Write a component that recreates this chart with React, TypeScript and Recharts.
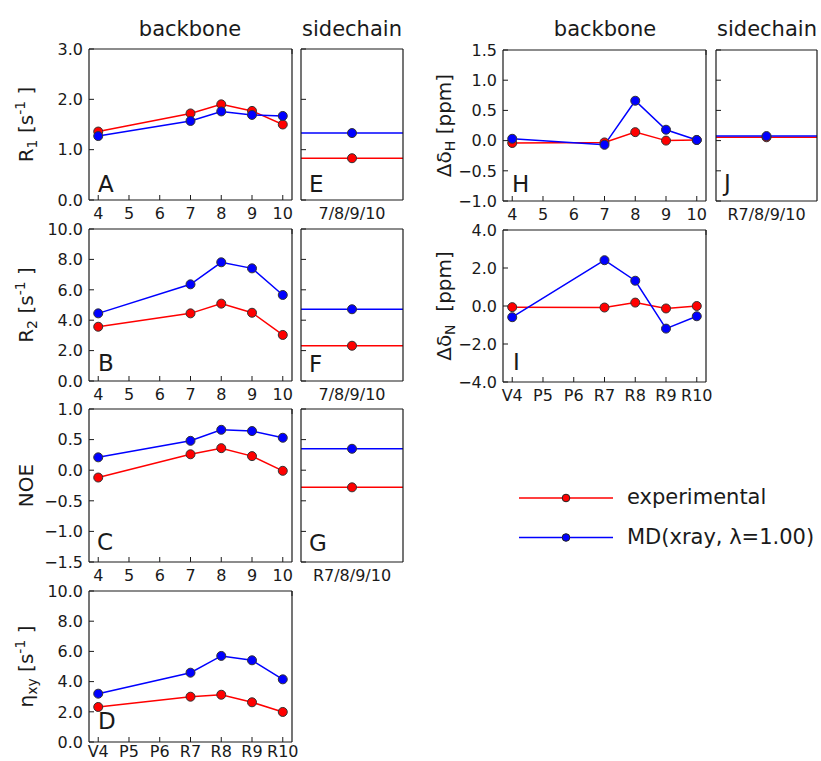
import React from 'react';
import { LineChart, Line, XAxis, YAxis, ReferenceLine } from 'recharts';

const RED = '#ff0000';
const BLUE = '#0000ff';
const INK = '#1a1a1a';
const FONT = '"DejaVu Sans", Verdana, sans-serif';
const TICK = 5;

// residues of the backbone
const residues = [4, 7, 8, 9, 10];
const residueTicks = [4, 5, 6, 7, 8, 9, 10];
const residueNames = ['V4', 'P5', 'P6', 'R7', 'R8', 'R9', 'R10'];
const xDomain = [3.7, 10.3];

// A / E : R1
const r1Exp = [1.36, 1.72, 1.9, 1.77, 1.5];
const r1Md = [1.27, 1.57, 1.76, 1.69, 1.67];
const r1SideExp = 0.83;
const r1SideMd = 1.33;
const r1Ticks = [0, 1, 2, 3];

// B / F : R2
const r2Exp = [3.57, 4.45, 5.09, 4.49, 3.03];
const r2Md = [4.45, 6.36, 7.81, 7.41, 5.66];
const r2SideExp = 2.32;
const r2SideMd = 4.72;
const r2Ticks = [0, 2, 4, 6, 8, 10];

// C / G : NOE
const noeExp = [-0.12, 0.26, 0.36, 0.23, -0.01];
const noeMd = [0.21, 0.48, 0.66, 0.64, 0.53];
const noeSideExp = -0.28;
const noeSideMd = 0.35;
const noeTicks = [-1.5, -1, -0.5, 0, 0.5, 1];

// D : eta_xy
const etaExp = [2.32, 3.0, 3.13, 2.63, 1.99];
const etaMd = [3.2, 4.59, 5.7, 5.41, 4.15];
const etaTicks = [0, 2, 4, 6, 8, 10];

// H / J : delta H
const dhExp = [-0.04, -0.03, 0.14, 0.0, 0.01];
const dhMd = [0.03, -0.07, 0.66, 0.18, 0.01];
const dhSideExp = 0.055;
const dhSideMd = 0.075;
const dhTicks = [-1, -0.5, 0, 0.5, 1, 1.5];

// I : delta N
const dnExp = [-0.06, -0.08, 0.18, -0.13, 0.0];
const dnMd = [-0.59, 2.41, 1.33, -1.19, -0.54];
const dnTicks = [-4, -2, 0, 2, 4];

const seriesNames = ['experimental', 'MD(xray, \u03bb=1.00)'];

const fmt = (v: number) => v.toFixed(1).replace('-', '\u2212');
const axisStyle = { stroke: INK, strokeWidth: 1.2 };
const textStyle = { fontFamily: FONT, fill: INK };

const LeftTick = (props: any) => {
  const { x, y, payload, showLabel } = props;
  return (
    <g>
      <line x1={x} x2={x + TICK} y1={y} y2={y} stroke={INK} />
      {showLabel && (
        <text x={x - 6} y={y + 5.8} textAnchor="end" fontSize={16} {...textStyle}>
          {fmt(payload.value)}
        </text>
      )}
    </g>
  );
};

const RightTick = ({ x, y }: any) => <line x1={x} x2={x - TICK} y1={y} y2={y} stroke={INK} />;
const TopTick = ({ x, y, showLine }: any) =>
  showLine ? <line x1={x} x2={x} y1={y} y2={y + TICK} stroke={INK} /> : <g />;

const BottomTick = (props: any) => {
  const { x, y, payload, names, single, showLine, gap = 19 } = props;
  let label = String(payload.value);
  if (single) label = single;
  else if (names) label = residueNames[residueTicks.indexOf(payload.value)];
  return (
    <g>
      {showLine && <line x1={x} x2={x} y1={y} y2={y - TICK} stroke={INK} />}
      <text x={x} y={y + gap} textAnchor="middle" fontSize={16} {...textStyle}>
        {label}
      </text>
    </g>
  );
};

const dotStyle = (c: string) => ({ r: 4.5, fill: c, stroke: '#333', strokeWidth: 1 });

function BackbonePanel(p: any) {
  const padT = 10, padB = 30, padR = 8;
  const data = residues.map((r, i) => ({ res: r, exp: p.exp[i], md: p.md[i] }));
  const cw = p.padL + p.w + padR;
  const ch = padT + p.h + padB;
  return (
    <div style={{ position: 'absolute', left: p.left - p.padL, top: p.top - padT }}>
      <LineChart width={cw} height={ch} data={data} margin={{ top: padT - 1, right: padR - 1, bottom: 0, left: 0 }}>
        <XAxis dataKey="res" type="number" domain={xDomain} ticks={residueTicks} interval={0} height={padB}
          tickSize={0} tickMargin={0} tickLine={false} axisLine={axisStyle}
          tick={(t: any) => <BottomTick {...t} names={p.named} gap={p.tickGap} showLine />}
          label={{
            content: () => (
              <text x={p.padL + p.letterDx} y={padT + p.h - p.letterDy} fontSize={23} {...textStyle}>{p.letter}</text>
            ),
          }} />
        <XAxis xAxisId="top" orientation="top" type="number" domain={xDomain} ticks={residueTicks} interval={0} height={1}
          tickSize={0} tickMargin={0} tickLine={false} axisLine={axisStyle}
          tick={(t: any) => <TopTick {...t} showLine />} />
        <YAxis type="number" domain={p.domain} ticks={p.ticks} interval={0} width={p.padL}
          tickSize={0} tickMargin={0} tickLine={false} axisLine={axisStyle}
          tick={(t: any) => <LeftTick {...t} showLabel />}
          label={{
            content: () => (
              <text transform={`translate(${p.padL - p.labelGap},${padT + p.h / 2}) rotate(-90)`}
                textAnchor="middle" fontSize={20} style={{ whiteSpace: 'pre' }} {...textStyle}>
                {p.label}
              </text>
            ),
          }} />
        <YAxis yAxisId="right" orientation="right" type="number" domain={p.domain} ticks={p.ticks} interval={0} width={1}
          tickSize={0} tickMargin={0} tickLine={false} axisLine={axisStyle} tick={RightTick} />
        <Line dataKey="exp" name={seriesNames[0]} stroke={RED} strokeWidth={1.5} dot={dotStyle(RED)} activeDot={false} isAnimationActive={false} />
        <Line dataKey="md" name={seriesNames[1]} stroke={BLUE} strokeWidth={1.5} dot={dotStyle(BLUE)} activeDot={false} isAnimationActive={false} />
      </LineChart>
    </div>
  );
}

function SidePanel(p: any) {
  const padT = 10, padB = 30, padL = 6, padR = 4;
  const data = [{ pos: 1, exp: p.exp, md: p.md }];
  const cw = padL + p.w + padR;
  const ch = padT + p.h + padB;
  return (
    <div style={{ position: 'absolute', left: p.left - padL, top: p.top - padT }}>
      <LineChart width={cw} height={ch} data={data} margin={{ top: padT - 1, right: padR - 1, bottom: 0, left: 0 }}>
        <XAxis dataKey="pos" type="number" domain={[0, 2]} ticks={[1]} interval={0} height={padB}
          tickSize={0} tickMargin={0} tickLine={false} axisLine={axisStyle}
          tick={(t: any) => <BottomTick {...t} single={p.tickName} />}
          label={{
            content: () => (
              <text x={padL + 8} y={padT + p.h - p.letterDy} fontSize={23} {...textStyle}>{p.letter}</text>
            ),
          }} />
        <XAxis xAxisId="top" orientation="top" type="number" domain={[0, 2]} ticks={[1]} height={1}
          tickSize={0} tickMargin={0} tickLine={false} axisLine={axisStyle} tick={(t: any) => <TopTick {...t} />} />
        <YAxis type="number" domain={p.domain} ticks={p.ticks} interval={0} width={padL}
          tickSize={0} tickMargin={0} tickLine={false} axisLine={axisStyle} tick={(t: any) => <LeftTick {...t} />} />
        <YAxis yAxisId="right" orientation="right" type="number" domain={p.domain} ticks={p.ticks} interval={0} width={1}
          tickSize={0} tickMargin={0} tickLine={false} axisLine={axisStyle} tick={RightTick} />
        <ReferenceLine y={p.exp} stroke={RED} strokeWidth={1.5} />
        <ReferenceLine y={p.md} stroke={BLUE} strokeWidth={1.5} />
        <Line dataKey="exp" stroke={RED} dot={dotStyle(RED)} activeDot={false} isAnimationActive={false} />
        <Line dataKey="md" stroke={BLUE} dot={dotStyle(BLUE)} activeDot={false} isAnimationActive={false} />
      </LineChart>
    </div>
  );
}

const sub = (s: string) => [
  <tspan key="a" dy={4} fontSize={14}>{s}</tspan>,
  <tspan key="b" dy={-4}> </tspan>,
];
const perSecond = [
  <tspan key="c">[s</tspan>,
  <tspan key="d" dy={-8} fontSize={14}>-1</tspan>,
  <tspan key="e" dy={8}> ]</tspan>,
];

const labelR1 = [<tspan key="r">R</tspan>, ...sub('1'), ...perSecond];
const labelR2 = [<tspan key="r">R</tspan>, ...sub('2'), ...perSecond];
const labelEta = [<tspan key="r">{'\u03b7'}</tspan>, ...sub('xy'), ...perSecond];
const labelDH = [<tspan key="r">{'\u0394\u03b4'}</tspan>, ...sub('H'), <tspan key="p">[ppm]</tspan>];
const labelDN = [<tspan key="r">{'\u0394\u03b4'}</tspan>, ...sub('N'), <tspan key="p"> [ppm]</tspan>];

export default function App() {
  const L = { left: 89, w: 203, padL: 89, labelGap: 56 };
  const LS = { left: 301, w: 102 };
  const R = { left: 503, w: 203, padL: 90, labelGap: 52 };
  const RS = { left: 716, w: 101 };
  return (
    <div style={{ position: 'absolute', left: 0, top: 0, width: 821, height: 761, background: '#fff', overflow: 'hidden' }}>
      <svg width={821} height={761} style={{ position: 'absolute', left: 0, top: 0 }}>
        <g fontSize={21} {...textStyle} textAnchor="middle">
          <text x={190} y={36}>backbone</text>
          <text x={352} y={36}>sidechain</text>
          <text x={605} y={36}>backbone</text>
          <text x={767} y={36}>sidechain</text>
        </g>
        {[RED, BLUE].map((c, i) => (
          <g key={c}>
            <line x1={519} x2={613} y1={498 + i * 39.5} y2={498 + i * 39.5} stroke={c} strokeWidth={1.5} />
            <circle cx={566} cy={498 + i * 39.5} r={3.8} fill={c} stroke="#222" strokeWidth={1} />
            <text x={627} y={504 + i * 39.5} fontSize={21} {...textStyle}>{seriesNames[i]}</text>
          </g>
        ))}
      </svg>

      <BackbonePanel {...L} top={49} h={151} exp={r1Exp} md={r1Md} domain={[0, 3]} ticks={r1Ticks} label={labelR1} letter="A" letterDx={9} letterDy={8} />
      <SidePanel {...LS} top={49} h={151} exp={r1SideExp} md={r1SideMd} domain={[0, 3]} ticks={r1Ticks} letter="E" letterDy={8} tickName="7/8/9/10" />

      <BackbonePanel {...L} top={229} h={152} exp={r2Exp} md={r2Md} domain={[0, 10]} ticks={r2Ticks} label={labelR2} letter="B" letterDx={9} letterDy={10} />
      <SidePanel {...LS} top={229} h={152} exp={r2SideExp} md={r2SideMd} domain={[0, 10]} ticks={r2Ticks} letter="F" letterDy={9} tickName="7/8/9/10" />

      <BackbonePanel {...L} top={409} h={153} exp={noeExp} md={noeMd} domain={[-1.5, 1]} ticks={noeTicks} label="NOE" letter="C" letterDx={8} letterDy={12} />
      <SidePanel {...LS} top={409} h={153} exp={noeSideExp} md={noeSideMd} domain={[-1.5, 1]} ticks={noeTicks} letter="G" letterDy={11} tickName="R7/8/9/10" />

      <BackbonePanel {...L} top={591} h={151} exp={etaExp} md={etaMd} domain={[0, 10]} ticks={etaTicks} label={labelEta} letter="D" letterDx={9} letterDy={13} named tickGap={15} />

      <BackbonePanel {...R} top={50} h={151} exp={dhExp} md={dhMd} domain={[-1, 1.5]} ticks={dhTicks} label={labelDH} letter="H" letterDx={9} letterDy={9} />
      <SidePanel {...RS} top={50} h={151} exp={dhSideExp} md={dhSideMd} domain={[-1, 1.5]} ticks={dhTicks} letter="J" letterDy={10} tickName="R7/8/9/10" />

      <BackbonePanel {...R} top={230} h={152} exp={dnExp} md={dnMd} domain={[-4, 4]} ticks={dnTicks} label={labelDN} letter="I" letterDx={10} letterDy={12} named />
    </div>
  );
}
